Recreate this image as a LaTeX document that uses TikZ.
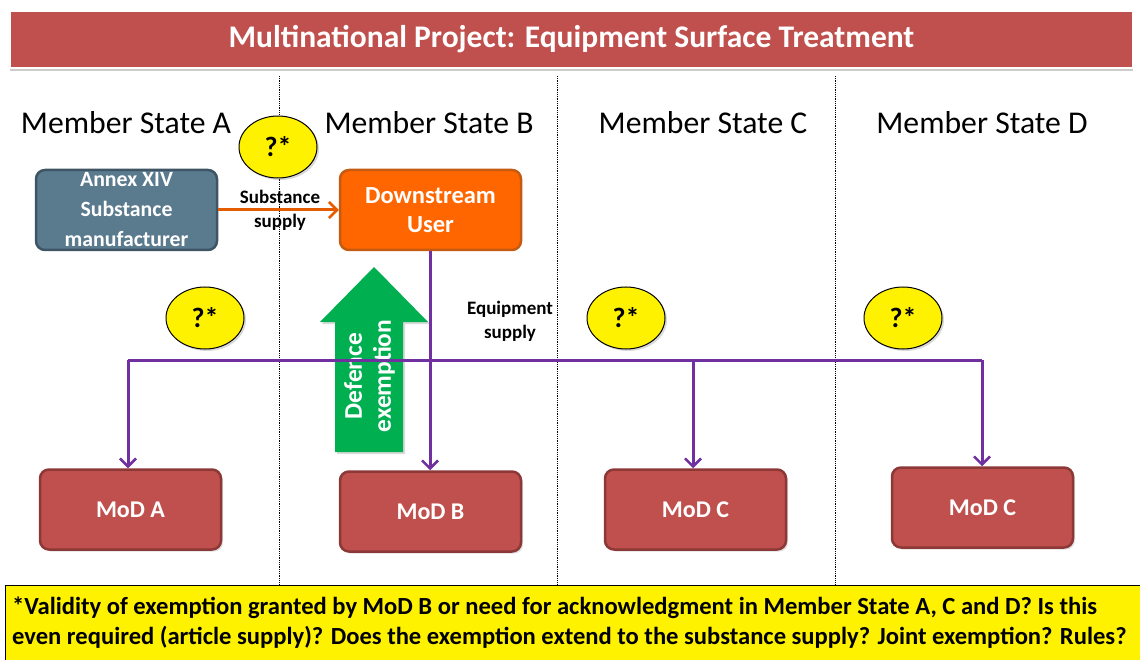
\documentclass[tikz,border=0pt]{standalone}
\usepackage{fontspec}
\setmainfont{Carlito}
\usetikzlibrary{arrows.meta,shapes.geometric,shadows}
\definecolor{redbox}{HTML}{C0504D}
\definecolor{redborder}{HTML}{8C3836}
\definecolor{slate}{HTML}{5A7A8E}
\definecolor{slateborder}{HTML}{3E5566}
\definecolor{orangebox}{HTML}{FF6600}
\definecolor{orangeborder}{HTML}{C55A11}
\definecolor{purp}{HTML}{7030A0}
\definecolor{greenarrow}{HTML}{00B050}
\begin{document}
\begin{tikzpicture}[x=1pt,y=-1pt,
  box/.style={rounded corners=9pt,line width=2.5pt,minimum width=181pt,minimum height=80pt,text=white,font=\bfseries\fontsize{24}{28}\selectfont,align=center,inner sep=0pt},
  modbox/.style={box,fill=redbox,draw=redborder,drop shadow={opacity=0.25,shadow xshift=2pt,shadow yshift=-2pt}},
  qbubble/.style={ellipse,draw=black,line width=1pt,fill=yellow,minimum width=78pt,minimum height=62pt,font=\bfseries\fontsize{28}{30}\selectfont,inner sep=0pt,drop shadow={opacity=0.3,shadow xshift=2pt,shadow yshift=-2pt}},
  state/.style={font=\fontsize{31.7}{34}\selectfont,anchor=center},
  small/.style={font=\bfseries\fontsize{19}{24}\selectfont,align=center},
  divider/.style={densely dotted,line width=0.8pt},
  purpline/.style={draw=purp,line width=3pt},
  purparrow/.style={purpline,-{Straight Barb[length=8pt,width=16pt,line width=2.5pt]}}
]
\useasboundingbox (0,0) rectangle (1140,660);
% dividers
\coordinate (d1t) at (279,76); \coordinate (d1b) at (279,585);
\coordinate (d2t) at (557,76); \coordinate (d2b) at (557,585);
\coordinate (d3t) at (835,76); \coordinate (d3b) at (835,585);
\draw[divider] (d1t) -- (d1b);
\draw[divider] (d2t) -- (d2b);
\draw[divider] (d3t) -- (d3b);
% title
\node[fill=redbox,draw=white,line width=1.5pt,minimum width=1123pt,minimum height=57pt,text=white,font=\bfseries\fontsize{31.5}{34}\selectfont,drop shadow={opacity=0.4,shadow xshift=0pt,shadow yshift=-3pt}] (title) at (571.5,39.5) {Multinational Project: Equipment Surface Treatment};
% states
\node[state] (sA) at (126,123) {Member State A};
\node[state] (sB) at (429,123) {Member State B};
\node[state] (sC) at (703,123) {Member State C};
\node[state] (sD) at (982,123) {Member State D};
% green arrow
\fill[greenarrow,drop shadow={opacity=0.3,shadow xshift=2pt,shadow yshift=-2pt}] (335,452) -- (335,322) -- (320,322) -- (374,267) -- (428,322) -- (403,322) -- (403,452) -- cycle;
\node[rotate=90,text=white,font=\bfseries\fontsize{25.4}{29}\selectfont,align=center] (defex) at (369.5,376) {Defence\\exemption};
% boxes
\node[box,fill=slate,draw=slateborder,font=\bfseries\fontsize{21.8}{30}\selectfont] (annex) at (126.5,210) {Annex XIV\\Substance\\manufacturer};
\node[box,fill=orangebox,draw=orangeborder,font=\bfseries\fontsize{24.5}{29.5}\selectfont] (du) at (430.5,210) {Downstream\\User};
\node[modbox] (modA) at (130.5,509.5) {MoD A};
\node[modbox] (modB) at (430.5,511.5) {MoD B};
\node[modbox] (modC) at (695.5,509.5) {MoD C};
\node[modbox] (modD) at (982.5,507.5) {MoD C};
% substance supply
\draw[draw=orangebox!90!black,line width=3pt,-{Straight Barb[length=8pt,width=16pt,line width=2.5pt]}] (annex.east) -- (du.west);
\node[small] (subs) at (280,210) {Substance\\supply};
% purple network
\coordinate (jB) at (430,360);
\coordinate (jA) at (128,360);
\coordinate (jC) at (693,360);
\coordinate (jD) at (982,360);
\draw[purpline] (jA) -- (jD);
\draw[purparrow] (du.south -| jB) -- (modB.north -| jB);
\draw[purparrow] (jA) -- (modA.north -| jA);
\draw[purparrow] (jC) -- (modC.north -| jC);
\draw[purparrow] (jD) -- (modD.north -| jD);
\node[small] (eq) at (510,321) {Equipment\\supply};
% bubbles
\node[qbubble] (q1) at (278,147) {?*};
\node[qbubble] (q2) at (205,318) {?*};
\node[qbubble] (q3) at (626,318) {?*};
\node[qbubble] (q4) at (903,318) {?*};
% footer
\node[draw=black,line width=1pt,fill=yellow,minimum width=1138pt,minimum height=76pt,anchor=north west,inner sep=0pt] (foot) at (5,585) {};
\node[anchor=west,font=\bfseries\fontsize{24.6}{30}\selectfont,align=left,inner sep=0pt] (foottext) at (12,623) {*Validity of exemption granted by MoD B or need for acknowledgment in Member State A, C and D? Is this\\even required (article supply)? Does the exemption extend to the substance supply? Joint exemption? Rules?};
\end{tikzpicture}
\end{document}
